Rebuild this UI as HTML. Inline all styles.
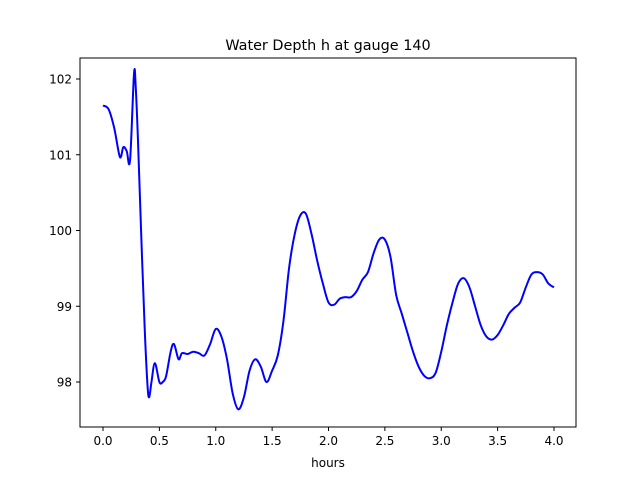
<!DOCTYPE html>
<html><head><meta charset="utf-8"><style>
body{margin:0;background:#fff}
svg text{font-family:"DejaVu Sans","Liberation Sans",sans-serif;fill:#000}
</style></head><body>
<svg width="640" height="480">
<rect x="0" y="0" width="640" height="480" fill="#fff"/>
<text x="328" y="50" font-size="14.4" text-anchor="middle">Water Depth h at gauge 140</text>
<g id="ticks"></g>
<path id="line" fill="none" stroke="#0000ff" stroke-width="2"/>
<rect x="80" y="58" width="496" height="369" fill="none" stroke="#000" stroke-width="1"/>
<text x="328" y="467" font-size="12" text-anchor="middle">hours</text>
</svg>
<script>
const hours=[0,0.05,0.1,0.15,0.18,0.21,0.24,0.275,0.29,0.31,0.34,0.37,0.395,0.41,0.43,0.46,0.5,0.53,0.56,0.6,0.63,0.67,0.7,0.75,0.8,0.85,0.9,0.95,1.0,1.05,1.1,1.15,1.2,1.25,1.3,1.35,1.4,1.45,1.5,1.55,1.6,1.65,1.7,1.75,1.8,1.85,1.9,1.95,2.0,2.05,2.1,2.15,2.2,2.25,2.3,2.35,2.4,2.45,2.5,2.55,2.6,2.65,2.7,2.75,2.8,2.85,2.9,2.95,3.0,3.05,3.1,3.15,3.2,3.25,3.3,3.35,3.4,3.45,3.5,3.55,3.6,3.65,3.7,3.75,3.8,3.85,3.9,3.95,4.0];
const depth=[101.65,101.6,101.35,100.97,101.1,101.05,100.93,102.07,101.9,101.2,99.9,98.7,97.95,97.8,98.0,98.25,98.0,98.0,98.08,98.4,98.5,98.3,98.38,98.37,98.4,98.38,98.35,98.5,98.7,98.6,98.3,97.85,97.64,97.8,98.15,98.3,98.2,98.0,98.15,98.35,98.8,99.5,99.95,100.2,100.22,99.95,99.6,99.3,99.05,99.02,99.1,99.12,99.12,99.2,99.35,99.45,99.7,99.88,99.88,99.65,99.15,98.9,98.65,98.4,98.2,98.08,98.05,98.12,98.4,98.75,99.05,99.3,99.37,99.25,99.0,98.75,98.6,98.56,98.62,98.75,98.9,98.98,99.05,99.25,99.42,99.45,99.42,99.3,99.25];
const xTicks=[0,0.5,1,1.5,2,2.5,3,3.5,4];
const xTickLabels=["0.0","0.5","1.0","1.5","2.0","2.5","3.0","3.5","4.0"];
const yTicks=[98,99,100,101,102];
const yTickLabels=["98","99","100","101","102"];
const X=v=>103+v*112.75, Y=v=>382-(v-98)*75.75;
const ns="http://www.w3.org/2000/svg";
const g=document.getElementById('ticks');
xTicks.forEach((t,i)=>{
 const l=document.createElementNS(ns,'line');
 l.setAttribute('x1',X(t));l.setAttribute('x2',X(t));l.setAttribute('y1',427);l.setAttribute('y2',431);l.setAttribute('stroke','#000');
 
 
 g.appendChild(l);
 const tx=document.createElementNS(ns,'text');
 tx.setAttribute('x',X(t));tx.setAttribute('y',445);tx.setAttribute('font-size','12');tx.setAttribute('text-anchor','middle');
 tx.textContent=xTickLabels[i];
 
 
 g.appendChild(tx);
});
yTicks.forEach((t,i)=>{
 const l=document.createElementNS(ns,'line');
 l.setAttribute('x1',76);l.setAttribute('x2',80);l.setAttribute('y1',Y(t));l.setAttribute('y2',Y(t));l.setAttribute('stroke','#000');
 
 
 g.appendChild(l);
 const tx=document.createElementNS(ns,'text');
 tx.setAttribute('x',72);tx.setAttribute('y',Y(t)+4.5);tx.setAttribute('font-size','12');tx.setAttribute('text-anchor','end');
 tx.textContent=yTickLabels[i];
 
 
 g.appendChild(tx);
});
const P=hours.map((h,i)=>[X(h),Y(depth[i])]);
let d='M'+P[0][0]+','+P[0][1];
for(let i=0;i<P.length-1;i++){
 const p0=P[Math.max(0,i-1)],p1=P[i],p2=P[i+1],p3=P[Math.min(P.length-1,i+2)];
 const c1=[p1[0]+(p2[0]-p0[0])/6,p1[1]+(p2[1]-p0[1])/6];
 const c2=[p2[0]-(p3[0]-p1[0])/6,p2[1]-(p3[1]-p1[1])/6];
 d+=` C${c1[0]},${c1[1]} ${c2[0]},${c2[1]} ${p2[0]},${p2[1]}`;
}
document.getElementById('line').setAttribute('d',d);
</script>
</body></html>
